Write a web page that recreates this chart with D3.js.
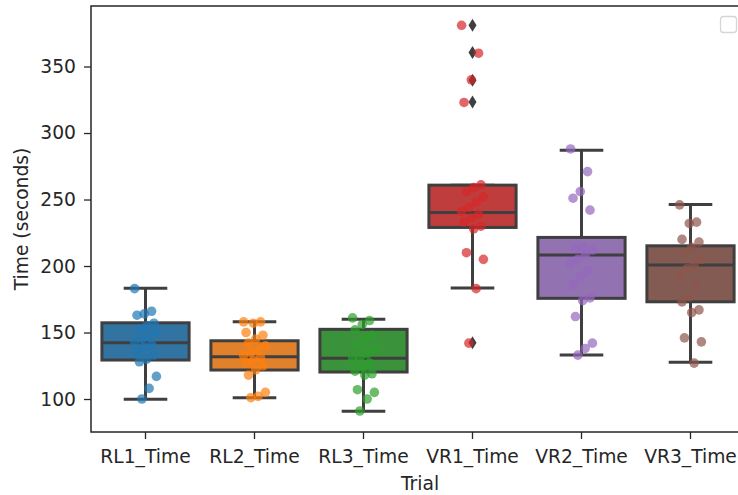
<!DOCTYPE html>
<html>
<head>
<meta charset="utf-8">
<script src="https://cdn.jsdelivr.net/npm/d3@7"></script>
<style>
  body { margin: 0; background: #fff; }
  text { font-family: "DejaVu Sans", sans-serif; fill: #262626; }
</style>
</head>
<body>
<div id="chart"></div>
<script>
// categories and values
const trials = ["RL1_Time", "RL2_Time", "RL3_Time", "VR1_Time", "VR2_Time", "VR3_Time"];

// box statistics (q1, median, q3, whisker low, whisker high)
const q1 = [129.3, 121.8, 120.3, 229.0, 175.7, 173.1];
const medians = [142.3, 131.8, 130.6, 240.3, 208.2, 200.7];
const q3 = [157.3, 143.8, 152.4, 260.8, 221.5, 215.2];
const whiskerLow = [99.8, 101.0, 90.8, 183.4, 133.1, 127.6];
const whiskerHigh = [183.2, 158.1, 159.9, 260.8, 287.1, 246.3];
const outliers = [[], [], [], [381, 360.5, 339.7, 323.4, 142.3], [], []];

// individual times (strip points)
const rl1 = [183, 166, 164, 163, 157, 155, 152, 150, 147, 145, 143, 141, 139, 136, 133, 130, 128, 117, 108, 100];
const rl2 = [158, 158, 157, 150, 148, 145, 142, 140, 137, 135, 133, 131, 129, 127, 125, 122, 118, 105, 102, 101];
const rl3 = [161, 159, 156, 152, 148, 145, 140, 137, 134, 131, 130, 127, 124, 121, 119, 118, 107, 105, 100, 91];
const vr1 = [381, 360, 340, 323, 261, 259, 256, 252, 248, 244, 241, 239, 236, 233, 230, 228, 210, 205, 183, 142];
const vr2 = [288, 271, 256, 251, 242, 214, 213, 212, 208, 205, 202, 196, 192, 186, 176, 174, 162, 142, 138, 133];
const vr3 = [246, 233, 232, 220, 218, 214, 210, 205, 201, 198, 192, 185, 177, 173, 167, 165, 146, 143, 127];
const points = [rl1, rl2, rl3, vr1, vr2, vr3];

const yTicks = [100, 150, 200, 250, 300, 350];

// colours
const boxColors = ["#3274a1", "#e1812c", "#3a923a", "#c03d3e", "#9372b2", "#845b53"];
const dotColors = ["#1f77b4", "#ff7f0e", "#2ca02c", "#d62728", "#9467bd", "#8c564b"];
const lineColor = "#3f3f3f";

const width = 738;
const height = 495;
const mLeft = 91, mRight = 745, mTop = 6, mBottom = 432;
const fontSize = 18.7;

const svg = d3.select("#chart")
    .append("svg")
    .attr("width", width)
    .attr("height", height);

const x = d3.scaleBand().domain(trials).range([mLeft, mRight]).padding(0);
const y = d3.scaleLinear().domain([75.2, 395.5]).range([mBottom, mTop]);
const bw = x.bandwidth() * 0.8;

// boxes
const g = svg.append("g");
trials.forEach((t, i) => {
    const cx = x(t) + x.bandwidth() / 2;
    const box = g.append("g");
    // whiskers
    box.append("line")
        .attr("x1", cx).attr("x2", cx)
        .attr("y1", y(q3[i])).attr("y2", y(whiskerHigh[i]))
        .attr("stroke", lineColor).attr("stroke-width", 3);
    box.append("line")
        .attr("x1", cx).attr("x2", cx)
        .attr("y1", y(q1[i])).attr("y2", y(whiskerLow[i]))
        .attr("stroke", lineColor).attr("stroke-width", 3);
    // caps
    [whiskerHigh[i], whiskerLow[i]].forEach(v => {
        box.append("line")
            .attr("x1", cx - bw / 4).attr("x2", cx + bw / 4)
            .attr("y1", y(v)).attr("y2", y(v))
            .attr("stroke", lineColor).attr("stroke-width", 3);
    });
    box.append("rect")
        .attr("x", cx - bw / 2)
        .attr("y", y(q3[i]))
        .attr("width", bw)
        .attr("height", y(q1[i]) - y(q3[i]))
        .attr("fill", boxColors[i])
        .attr("stroke", lineColor)
        .attr("stroke-width", 3);
    box.append("line")
        .attr("x1", cx - bw / 2).attr("x2", cx + bw / 2)
        .attr("y1", y(medians[i])).attr("y2", y(medians[i]))
        .attr("stroke", lineColor).attr("stroke-width", 3);
    // outlier diamonds
    outliers[i].forEach(v => {
        const py = y(v);
        box.append("path")
            .attr("d", `M${cx},${py - 6.5}L${cx + 4},${py}L${cx},${py + 6.5}L${cx - 4},${py}Z`)
            .attr("fill", lineColor);
    });
});

// strip points (fixed jitter pattern, within +-0.1 of a category)
const jit = j => ((((j * 7) % 10) / 9) - 0.5) * 0.2;
const dots = svg.append("g");
points.forEach((vals, i) => {
    const cx = x(trials[i]) + x.bandwidth() / 2;
    dots.selectAll(null)
        .data(vals)
        .enter()
        .append("circle")
        .attr("cx", (d, j) => cx + jit(j) * x.bandwidth())
        .attr("cy", d => y(d))
        .attr("r", 4.8)
        .attr("fill", dotColors[i])
        .attr("fill-opacity", 0.7);
});

// axes
const xAxis = svg.append("g")
    .attr("transform", `translate(0,${mBottom})`)
    .call(d3.axisBottom(x).tickSizeOuter(0).tickSize(7).tickPadding(4));
const yAxis = svg.append("g")
    .attr("transform", `translate(${mLeft},0)`)
    .call(d3.axisLeft(y).tickValues(yTicks).tickSizeOuter(0).tickSize(7).tickPadding(8));

[xAxis, yAxis].forEach(a => {
    a.select(".domain").remove();
    a.selectAll(".tick line").attr("stroke", "#262626").attr("stroke-width", 1.3);
    a.selectAll(".tick text")
        .attr("font-family", "DejaVu Sans, sans-serif")
        .attr("font-size", fontSize)
        .attr("fill", "#262626");
});
xAxis.selectAll(".tick text").attr("dy", null).attr("y", 31);

// spines
svg.append("rect")
    .attr("x", mLeft).attr("y", mTop)
    .attr("width", mRight - mLeft).attr("height", mBottom - mTop)
    .attr("fill", "none")
    .attr("stroke", "#262626")
    .attr("stroke-width", 1.5);

// axis titles
svg.append("text")
    .attr("x", (mLeft + mRight) / 2 + 2)
    .attr("y", 490)
    .attr("text-anchor", "middle")
    .attr("font-size", fontSize)
    .text("Trial");
svg.append("text")
    .attr("transform", `translate(28,${(mTop + mBottom) / 2}) rotate(-90)`)
    .attr("text-anchor", "middle")
    .attr("font-size", fontSize)
    .text("Time (seconds)");

// empty legend box
svg.append("rect")
    .attr("x", 720.5).attr("y", 16.5)
    .attr("width", 16).attr("height", 16)
    .attr("rx", 3)
    .attr("fill", "#fff")
    .attr("stroke", "#d6d6d6")
    .attr("stroke-width", 1.3);
</script>
</body>
</html>
